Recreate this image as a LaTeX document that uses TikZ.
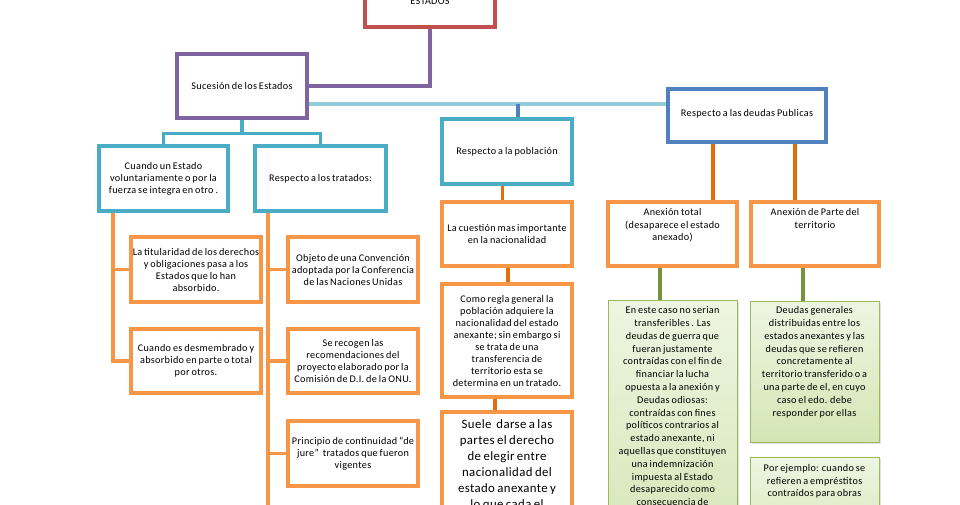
\documentclass[tikz,border=0pt]{standalone}
\usepackage{fontspec}
\setmainfont[LetterSpace=3,WordSpace=0.75]{Carlito}
\usetikzlibrary{calc,shadows}
\definecolor{cred}{HTML}{C0504D}
\definecolor{cpurple}{HTML}{8064A2}
\definecolor{cteal}{HTML}{4BACC6}
\definecolor{clblue}{HTML}{92CDDC}
\definecolor{cblue}{HTML}{4F81BD}
\definecolor{corange}{HTML}{F79646}
\definecolor{cdorange}{HTML}{E46C0A}
\definecolor{cgreen}{HTML}{77933C}
\definecolor{cgborder}{HTML}{9BBB59}
\definecolor{cgtop}{HTML}{EEF5E2}
\definecolor{cgbot}{HTML}{D4E6B5}
\tikzset{
  bx/.style={draw, line width=3.2pt, fill=white, inner sep=1pt, align=center,
    font=\fontsize{10.2}{12}\selectfont},
  redbox/.style={bx, draw=cred},
  purplebox/.style={bx, draw=cpurple},
  tealbox/.style={bx, draw=cteal},
  bluebox/.style={bx, draw=cblue},
  orangebox/.style={bx, draw=corange},
  greenbox/.style={draw=cgborder, line width=0.9pt, top color=cgtop, bottom color=cgbot,
    inner sep=0pt, drop shadow={shadow xshift=1.5pt, shadow yshift=-1.5pt, fill=black!25}},
  txt/.style={inner sep=0pt, align=center, font=\fontsize{10.2}{12.4}\selectfont},
  gtxt/.style={inner sep=0pt, align=center, font=\fontsize{10.2}{12.8}\selectfont},
  ln/.style={line width=3.2pt},
}
\begin{document}
\begin{tikzpicture}[x=1pt,y=-1pt]
\useasboundingbox (0,0) rectangle (960,504);
\clip (0,0) rectangle (960,504);

% top (cut) box
\node[redbox, minimum width=130pt, minimum height=66pt] (top) at (430,-6) {};
\node[txt, anchor=base] (toptxt) at (430,4) {ESTADOS};

% level 1
\node[purplebox, minimum width=130pt, minimum height=64pt] (suc) at (242,86) {Sucesión de los Estados};
\node[bluebox, minimum width=158pt, minimum height=53pt] (deu) at (747,115.5) {};
\node[txt, anchor=center] (deut) at (747,113.5) {Respecto a las deudas Publicas};

% level 2
\node[tealbox, minimum width=129pt, minimum height=65pt] (cua) at (163.5,178.5) {Cuando un Estado\\voluntariamente o por la\\fuerza se integra en otro .};
\node[tealbox, minimum width=131pt, minimum height=65pt] (tra) at (320.5,178.5) {Respecto a los tratados:};
\node[tealbox, minimum width=130pt, minimum height=65pt] (pob) at (507,151.5) {Respecto a la población};

% left column
\node[orangebox, minimum width=130pt, minimum height=65pt] (tit) at (196,269.5) {La titularidad de los derechos\\y obligaciones pasa a los\\Estados que lo han\\absorbido.};
\node[orangebox, minimum width=130pt, minimum height=64pt] (des) at (196,361) {Cuando es desmembrado y\\absorbido en parte o total\\por otros.};

% tratados column
\node[orangebox, minimum width=130pt, minimum height=65pt] (obj) at (353,269.5) {Objeto de una Convención\\adoptada por la Conferencia\\de las Naciones Unidas};
\node[orangebox, minimum width=130pt, minimum height=64pt] (sec) at (353,361) {Se recogen las\\recomendaciones del\\proyecto elaborado por la\\Comisión de D.I. de la ONU.};
\node[orangebox, minimum width=130pt, minimum height=65pt] (pri) at (353,453.5) {Principio de continuidad “de\\jure”~ tratados que fueron\\vigentes};

% población column
\node[orangebox, minimum width=130pt, minimum height=64pt] (cue) at (507,234) {La cuestión mas importante\\en la nacionalidad};
\node[orangebox, minimum width=130pt, minimum height=113pt] (com) at (507,340.5) {Como regla general la\\población adquiere la\\nacionalidad del estado\\anexante; sin embargo si\\se trata de una\\transferencia de\\territorio esta se\\determina en un tratado.};
\node[orangebox, minimum width=130pt, minimum height=116pt] (sue) at (507,470) {};
\node[txt, anchor=north, font=\fontsize{12.8}{16}\selectfont] (suet) at (507,419) {Suele~ darse a las\\partes el derecho\\de elegir entre\\nacionalidad del\\estado anexante y\\lo que cada el};

% deudas column
\node[orangebox, minimum width=129pt, minimum height=64pt] (ant) at (672.5,234) {};
\node[txt, anchor=north] (antt) at (672.5,208.5) {Anexión total\\(desaparece el estado\\anexado)};
\node[orangebox, minimum width=128pt, minimum height=64pt] (anp) at (815,234) {};
\node[txt, anchor=north] (anpt) at (815,208.5) {Anexión de Parte del\\territorio};

\node[greenbox, minimum width=129pt, minimum height=260pt] (gb1) at (672.5,430) {};
\node[gtxt, anchor=north] (gb1t) at (672.5,306.5) {En este caso no serian\\transferibles . Las\\deudas de guerra que\\fueran justamente\\contraídas con el fin de\\financiar la lucha\\opuesta a la anexión y\\Deudas odiosas:\\contraídas con fines\\políticos contrarios al\\estado anexante, ni\\aquellas que constituyen\\una indemnización\\impuesta al Estado\\desaparecido como\\consecuencia de};
\node[greenbox, minimum width=129pt, minimum height=141pt] (gb2) at (814.5,371.5) {};
\node[gtxt, anchor=north] (gb2t) at (814.5,306.5) {Deudas generales\\distribuidas entre los\\estados anexantes y las\\deudas que se refieren\\concretamente al\\territorio transferido o a\\una parte de el, en cuyo\\caso el edo. debe\\responder por ellas};
\node[greenbox, minimum width=129pt, minimum height=103pt] (gb3) at (814.5,508.5) {};
\node[gtxt, anchor=north] (gb3t) at (814.5,464) {Por ejemplo: cuando se\\refieren a empréstitos\\contraídos para obras};

% connectors
\draw[ln, cpurple] (top.south) |- (suc.east);
\coordinate (lb1) at ([yshift=-18pt]suc.east);
\draw[ln, clblue] (lb1) -- (deu.west |- lb1);
\coordinate (pj) at ([xshift=11pt]pob.north);
\draw[ln, cblue] (pj) -- (pj |- lb1);

\coordinate (tj) at ([yshift=-14pt]suc.south);
\draw[ln, cteal] (suc.south) -- (tj);
\draw[ln, cteal] (cua.north) |- (tj) -| (tra.north);

\coordinate (lv) at ([xshift=-50.5pt]cua.south);
\draw[ln, corange] (lv) |- (tit.west);
\draw[ln, corange] (lv) |- (des.west);

\coordinate (mv) at ([xshift=-52.5pt]tra.south);
\coordinate (mvend) at ([yshift=-320pt]mv);
\draw[ln, corange] (mv) -- (mvend);
\draw[ln, corange] (mv) |- (obj.west);
\draw[ln, corange] (mv) |- (sec.west);
\draw[ln, corange] (mv) |- (pri.west);

\draw[ln, cdorange] ([xshift=-4.5pt]pob.south) -- ([xshift=-4.5pt]cue.north);
\draw[ln, cdorange] ([xshift=1pt]cue.south) -- ([xshift=1pt]com.north);
\draw[ln, cdorange] ([xshift=-12pt]com.south) -- ([xshift=-12pt]sue.north);

\coordinate (d1) at ([xshift=-34pt]deu.south);
\coordinate (d2) at ([xshift=48pt]deu.south);
\draw[ln, cdorange] (d1) -- (d1 |- ant.north);
\draw[ln, cdorange] (d2) -- (d2 |- anp.north);

\coordinate (g1) at ([xshift=-12.5pt]ant.south);
\coordinate (g2) at ([xshift=-12pt]anp.south);
\draw[ln, cgreen] (g1) -- (g1 |- gb1.north);
\draw[ln, cgreen] (g2) -- (g2 |- gb2.north);
\end{tikzpicture}
\end{document}
